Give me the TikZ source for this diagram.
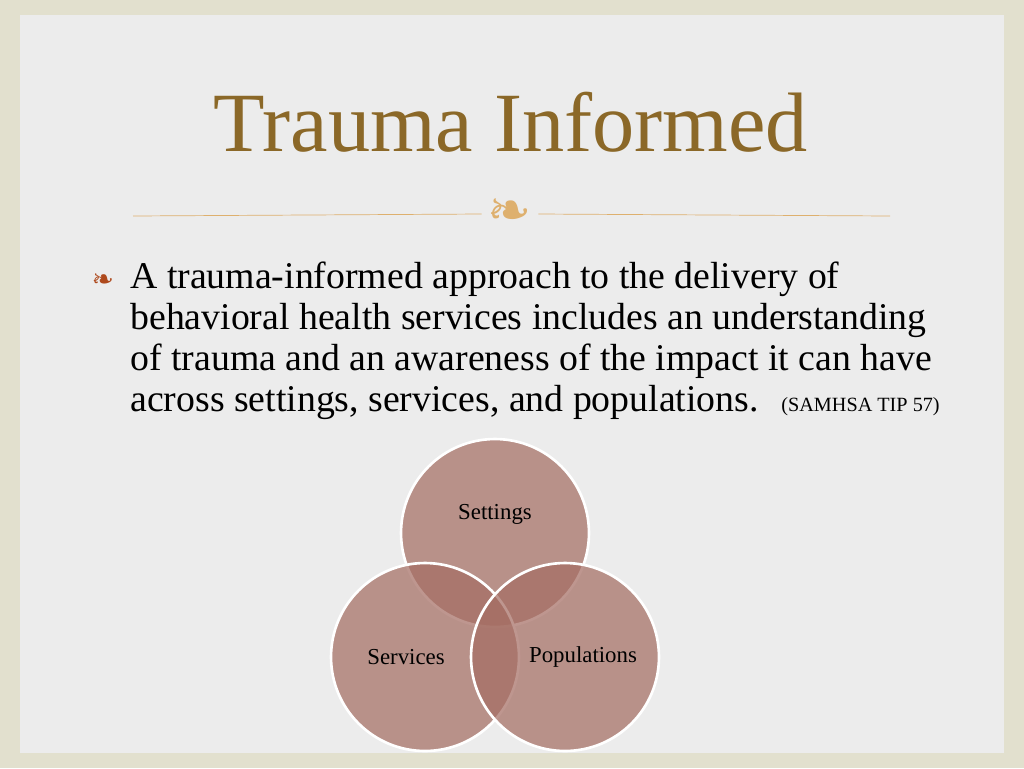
\documentclass[tikz,border=0pt]{standalone}
\usepackage{fontspec}
\setmainfont{Liberation Serif}
\newfontfamily\orn{DejaVu Sans}
\definecolor{titlebrown}{RGB}{139,104,40}
\definecolor{rulegold}{RGB}{222,176,110}
\definecolor{vennfill}{RGB}{165,110,100}
\definecolor{edgebeige}{RGB}{226,224,206}
\definecolor{midgray}{RGB}{236,236,236}
\usetikzlibrary{positioning}

\tikzset{
  venn/.style={circle,minimum size=3.76cm,inner sep=0,draw=white,line width=1.5pt,fill=vennfill,fill opacity=0.72,text opacity=1},
  bodytext/.style={anchor=north west,align=left,font=\fontsize{21.5}{23.3}\selectfont,inner sep=0},
  vennlabel/.style={font=\fontsize{13}{15}\selectfont}
}

\begin{document}
\begin{tikzpicture}[x=0.02cm,y=-0.02cm]
        % background
        \fill[edgebeige] (0,0) rectangle (1024,768);
        \fill[midgray] (20,15) rectangle (1004,753);
        \useasboundingbox (0,0) rectangle (1024,768);

        \node[titlebrown,font=\fontsize{48}{54}\selectfont] (title) at (511,122) {Trauma Informed};
        \node[rulegold,font=\orn\fontsize{30}{30}\selectfont] (orn) at (510,214) {❧};
        \coordinate (ruleL) at (133,216);
        \coordinate (ruleR) at (890,216);
        \draw[rulegold] (ruleL) -- (orn.west);
        \draw[rulegold] (orn.east) -- (ruleR);

        \node[titlebrown!70!red,font=\orn\fontsize{15}{15}\selectfont] (bullet) at (103,281) {❧};
        \node[bodytext] (body) at (130,262) {A trauma-informed approach to the delivery of\\
          behavioral health services includes an understanding\\
          of trauma and an awareness of the impact it can have\\
          across settings, services, and populations.\hspace{0.6em}{\fontsize{11.5}{13}\selectfont(SAMHSA TIP 57)}};

        % venn circles
        \node[venn] (settings) at (495,533) {};
        \node[venn] (services) at (425,657) {};
        \node[venn] (populations) at (565,657) {};
        \node[vennlabel] (lset) at (495,514) {Settings};
        \node[vennlabel] (lserv) at (406,657) {Services};
        \node[vennlabel] (lpop) at (583,657) {Populations};
    \end{tikzpicture}
\end{document}
